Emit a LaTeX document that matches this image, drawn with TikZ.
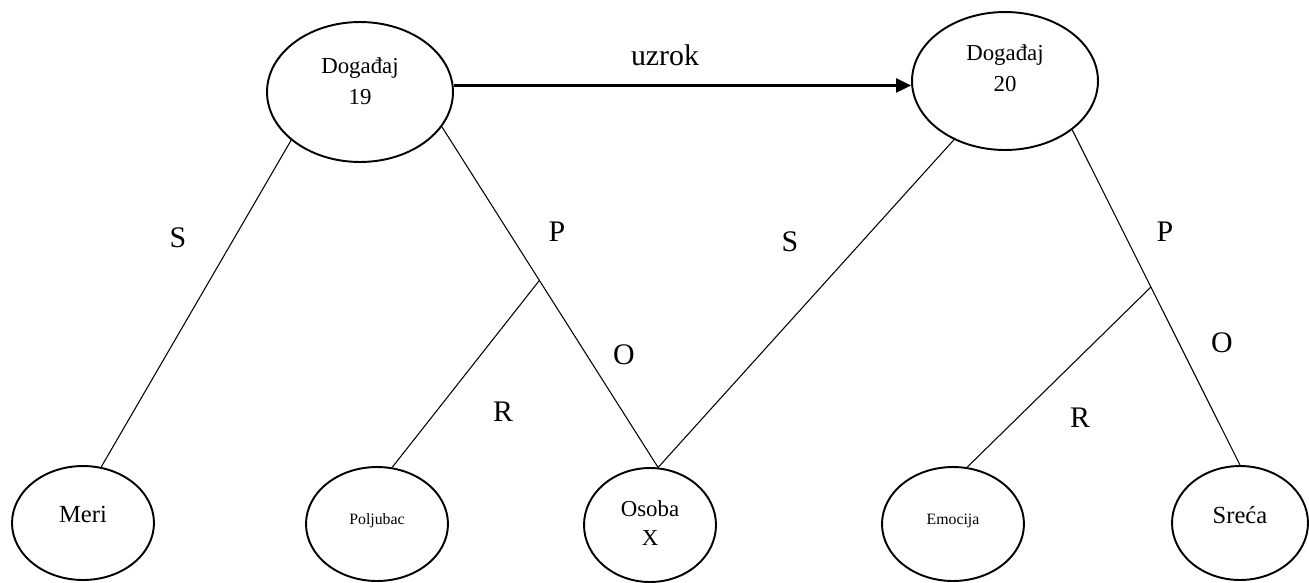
\documentclass[tikz,border=0pt]{standalone}
\usepackage{fontspec}
\setmainfont{Liberation Serif}
\usetikzlibrary{shapes.geometric,arrows.meta}
\tikzset{
  ev/.style={ellipse, draw, line width=1.1pt, inner sep=0pt},
  conn/.style={line width=0.6pt},
  arr/.style={line width=1.2pt, -{Triangle[length=8.5pt,width=8pt]}},
  lbl/.style={font=\fontsize{17}{20}\selectfont, inner sep=0pt},
  big/.style={font=\fontsize{13}{17.6}\selectfont, align=center, inner sep=0pt},
  small/.style={font=\fontsize{9}{11}\selectfont, inner sep=0pt},
}
\begin{document}
\begin{tikzpicture}[x=0.02cm,y=-0.02cm]
\useasboundingbox (0,0) rectangle (1309,582);
% events
\node[ev, minimum width=3.72cm, minimum height=2.8cm,
  label={[big, yshift=0.22cm]center:{Događaj\\19}}] (e19) at (360,92) {};
\node[ev, minimum width=3.72cm, minimum height=2.76cm,
  label={[big, yshift=0.25cm]center:{Događaj\\20}}] (e20) at (1005,81) {};
% bottom nodes
\node[ev, minimum width=2.84cm, minimum height=2.28cm,
  label={[big, font=\fontsize{14}{16}\selectfont, yshift=0.18cm]center:Meri}] (meri) at (83,523) {};
\node[ev, minimum width=2.84cm, minimum height=2.28cm,
  label={[small, yshift=0.06cm]center:Poljubac}] (polj) at (377,524) {};
\node[ev, minimum width=2.64cm, minimum height=2.28cm,
  label={[big, font=\fontsize{13}{17}\selectfont, yshift=0.04cm]center:{Osoba\\X}}] (osoba) at (650,525) {};
\node[ev, minimum width=2.84cm, minimum height=2.28cm,
  label={[small, yshift=0.06cm]center:Emocija}] (emoc) at (953,524) {};
\node[ev, minimum width=2.72cm, minimum height=2.28cm,
  label={[big, font=\fontsize{14}{16}\selectfont, yshift=0.16cm]center:Sreća}] (sreca) at (1240,523) {};
% connectors
\draw[arr] (e19.4) -- (e19.4 -| e20.west);
\draw[conn] (e19.215) -- (meri.72);
\draw[conn] (e19.337) -- (osoba.82);
\draw[conn] (e20.229) -- (osoba.82);
\draw[conn] (e20.324) -- (sreca.90);
\path (e19.337) -- (osoba.82) coordinate[pos=0.451] (j1);
\path (e20.324) -- (sreca.90) coordinate[pos=0.469] (j2);
\draw[conn] (j1) -- (polj.75);
\draw[conn] (j2) -- (emoc.76);
% labels
\node[lbl] (luzrok) at (665,55) {uzrok};
\node[lbl] (lS1) at (178,238) {S};
\node[lbl] (lP1) at (557,232) {P};
\node[lbl] (lO1) at (624,355) {O};
\node[lbl] (lR1) at (503,412) {R};
\node[lbl] (lS2) at (790,242) {S};
\node[lbl] (lP2) at (1165,232) {P};
\node[lbl] (lO2) at (1222,343) {O};
\node[lbl] (lR2) at (1080,418) {R};
\end{tikzpicture}
\end{document}
